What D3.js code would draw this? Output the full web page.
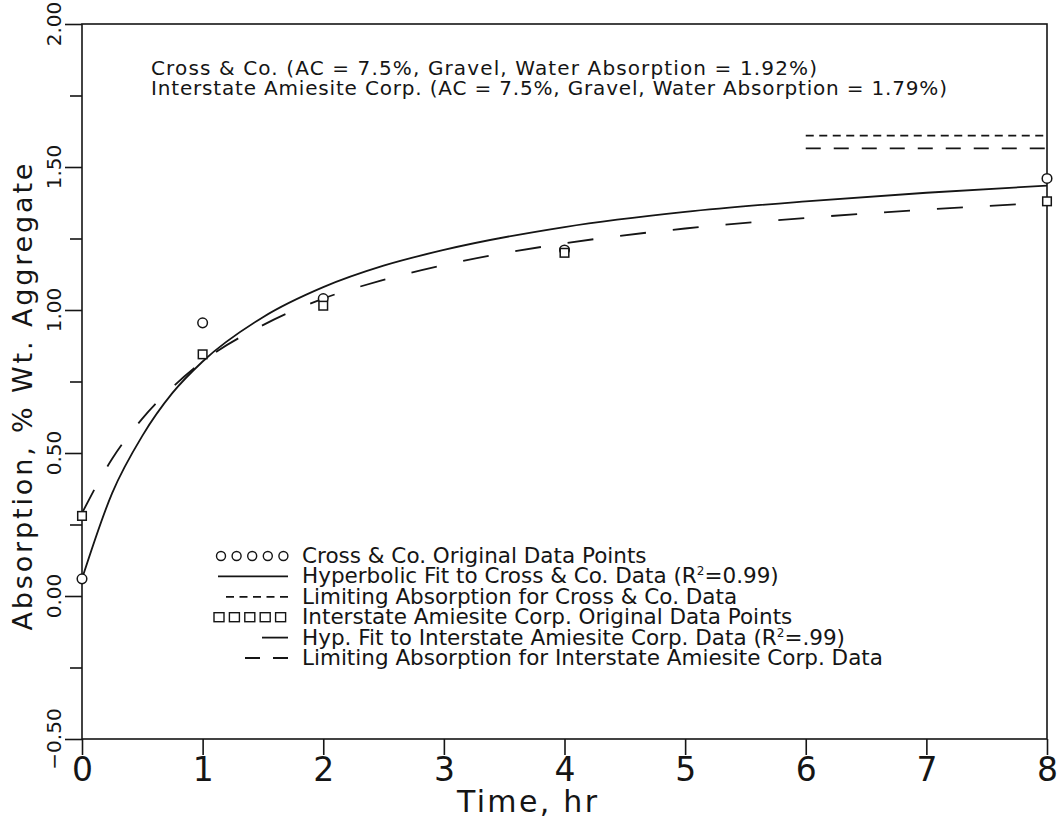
<!DOCTYPE html>
<html><head><meta charset="utf-8">
<script src="https://cdn.jsdelivr.net/npm/d3@7"></script>
<style>
body{margin:0;background:#fff}
text{font-family:"DejaVu Sans",sans-serif;fill:#151515}
</style>
</head><body>
<svg id="chart" width="1057" height="824"></svg>
<script>
// ---- data ----
const obsTimes   = [0, 1, 2, 4, 8];
const crossObs   = [0.06, 0.955, 1.04, 1.21, 1.46];
const interObs   = [0.28, 0.845, 1.015, 1.20, 1.38];
const fitTimes   = [0, 0.25, 0.5, 0.75, 1, 1.5, 2, 2.5, 3, 4, 5, 6, 7, 8];
const crossFit   = [0.06, 0.36, 0.56, 0.71, 0.82, 0.975, 1.08, 1.155, 1.21, 1.29, 1.343, 1.38, 1.41, 1.435];
const interFit   = [0.29, 0.48, 0.62, 0.73, 0.82, 0.947, 1.04, 1.105, 1.157, 1.233, 1.285, 1.322, 1.351, 1.375];
const limitTimes = [6, 8];
const crossLimit = [1.61, 1.61];
const interLimit = [1.565, 1.565];
const xTicks     = [0, 1, 2, 3, 4, 5, 6, 7, 8];
const yTicks     = [-0.5, 0, 0.5, 1, 1.5, 2];
const yMinor     = [-0.25, 0.25, 0.75, 1.25, 1.75];
const yTickText  = ["\u22120.50", "0.00", "0.50", "1.00", "1.50", "2.00"];
const xTitle     = "Time, hr";
const yTitle     = "Absorption, % Wt. Aggregate";
const notes      = ["Cross & Co. (AC = 7.5%, Gravel, Water Absorption = 1.92%)",
                    "Interstate Amiesite Corp. (AC = 7.5%, Gravel, Water Absorption = 1.79%)"];
const legendText = [
  ["Cross & Co. Original Data Points"],
  ["Hyperbolic Fit to Cross & Co. Data (R", "2", "=0.99)"],
  ["Limiting Absorption for Cross & Co. Data"],
  ["Interstate Amiesite Corp. Original Data Points"],
  ["Hyp. Fit to Interstate Amiesite Corp. Data (R", "2", "=.99)"],
  ["Limiting Absorption for Interstate Amiesite Corp. Data"]
];

// ---- layout ----
const svg = d3.select("#chart");
const L = 82, R = 1047, T = 24, B = 739;
const x = d3.scaleLinear().domain([0, 8]).range([L, R]);
const y = d3.scaleLinear().domain([-0.5, 2]).range([B, T]);
const ink = "#151515";

// frame
svg.append("rect").attr("x", L).attr("y", T).attr("width", R - L).attr("height", B - T)
  .attr("fill", "none").attr("stroke", ink).attr("stroke-width", 1.6);

// axes ticks
const ax = svg.append("g").attr("transform", `translate(0,${B})`)
  .call(d3.axisBottom(x).tickValues(xTicks).tickSize(16).tickSizeOuter(0).tickPadding(3).tickFormat(d3.format("d")));
ax.select(".domain").remove();
ax.selectAll("line").attr("stroke", ink).attr("stroke-width", 1.6);
ax.selectAll("text").attr("font-size", 33).attr("font-family", "DejaVu Sans").attr("fill", ink);

const ay = svg.append("g").attr("transform", `translate(${L},0)`)
  .call(d3.axisLeft(y).tickValues(yTicks).tickSize(17).tickSizeOuter(0).tickFormat(""));
ay.select(".domain").remove();
ay.selectAll("line").attr("stroke", ink).attr("stroke-width", 1.6);
const ay2 = svg.append("g").attr("transform", `translate(${L},0)`)
  .call(d3.axisLeft(y).tickValues(yMinor).tickSize(12).tickSizeOuter(0).tickFormat(""));
ay2.select(".domain").remove();
ay2.selectAll("line").attr("stroke", ink).attr("stroke-width", 1.6);

svg.append("g").selectAll("text").data(yTicks).join("text")
  .attr("transform", (d) => `translate(61,${y(d)}) rotate(-90)`)
  .attr("text-anchor", "middle").attr("font-size", 20)
  .text((d, i) => yTickText[i]);

// axis titles
svg.append("text").attr("x", 527).attr("y", 812).attr("text-anchor", "middle")
  .attr("font-size", 30).attr("textLength", 140).attr("lengthAdjust", "spacing").text(xTitle);
svg.append("text").attr("transform", "translate(32,397) rotate(-90)")
  .attr("text-anchor", "middle").attr("font-size", 27)
  .attr("textLength", 467).attr("lengthAdjust", "spacing").text(yTitle);

// annotations
const noteLen = [666, 796];
notes.forEach((t, i) => {
  svg.append("text").attr("x", 151).attr("y", 75 + i * 20).attr("font-size", 20)
    .attr("textLength", noteLen[i]).attr("lengthAdjust", "spacing").text(t);
});

// curves
const line = d3.line().x((d) => x(d[0])).y((d) => y(d[1])).curve(d3.curveMonotoneX);
svg.append("path").datum(fitTimes.map((t, i) => [t, crossFit[i]]))
  .attr("d", line).attr("fill", "none").attr("stroke", ink).attr("stroke-width", 1.8);
svg.append("path").datum(fitTimes.map((t, i) => [t, interFit[i]]))
  .attr("d", line).attr("fill", "none").attr("stroke", ink).attr("stroke-width", 1.8)
  .attr("stroke-dasharray", "26,27");
svg.append("path").datum(limitTimes.map((t, i) => [t, crossLimit[i]]))
  .attr("d", line).attr("fill", "none").attr("stroke", ink).attr("stroke-width", 1.8)
  .attr("stroke-dasharray", "8,5.5");
svg.append("path").datum(limitTimes.map((t, i) => [t, interLimit[i]]))
  .attr("d", line).attr("fill", "none").attr("stroke", ink).attr("stroke-width", 1.8)
  .attr("stroke-dasharray", "15,13");

// markers
svg.append("g").selectAll("circle").data(obsTimes).join("circle")
  .attr("cx", (d) => x(d)).attr("cy", (d, i) => y(crossObs[i])).attr("r", 4.8)
  .attr("fill", "#fff").attr("stroke", ink).attr("stroke-width", 1.5);
svg.append("g").selectAll("rect").data(obsTimes).join("rect")
  .attr("x", (d) => x(d) - 4.3).attr("y", (d, i) => y(interObs[i]) - 4.3)
  .attr("width", 8.6).attr("height", 8.6)
  .attr("fill", "#fff").attr("stroke", ink).attr("stroke-width", 1.5);

// legend
const lgX = 302, lgY = 563, lgDy = 20.4, symR = 288;
const lg = svg.append("g");
legendText.forEach((parts, i) => {
  const t = lg.append("text").attr("x", lgX).attr("y", lgY + i * lgDy).attr("font-size", 21.5);
  t.append("tspan").text(parts[0]);
  if (parts.length > 1) {
    t.append("tspan").attr("dy", -8).attr("font-size", 12).text(parts[1]);
    t.append("tspan").attr("dy", 8).text(parts[2]);
  }
});
const cy = (i) => lgY + i * lgDy - 7;
// row 0: circles
lg.append("g").selectAll("circle").data(d3.range(5)).join("circle")
  .attr("cx", (k) => 221 + k * 15.6).attr("cy", cy(0)).attr("r", 4.5)
  .attr("fill", "none").attr("stroke", ink).attr("stroke-width", 1.4);
// row 3: squares
lg.append("g").selectAll("rect").data(d3.range(5)).join("rect")
  .attr("x", (k) => 214 + k * 15.4).attr("y", cy(3) - 4.5).attr("width", 10).attr("height", 9)
  .attr("fill", "none").attr("stroke", ink).attr("stroke-width", 1.4);
const sample = [[1, 218, null], [2, 226, "8,5.5"], [4, 255, "26,27"], [5, 232, "15,13"]];
sample.forEach(([row, x0, dash]) => {
  const p = lg.append("line").attr("x1", symR).attr("x2", x0).attr("y1", cy(row)).attr("y2", cy(row))
    .attr("stroke", ink).attr("stroke-width", 1.8);
  if (dash) p.attr("stroke-dasharray", dash);
});
</script>
</body></html>
